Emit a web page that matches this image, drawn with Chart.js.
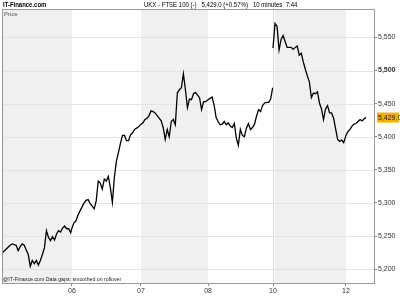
<!DOCTYPE html>
<html>
<head>
<meta charset="utf-8">
<script src="https://cdn.jsdelivr.net/npm/chart.js@4"></script>
<style>
  body { margin: 0; background: #fff; }
  #wrap { position: relative; width: 400px; height: 300px; font-family: "Liberation Sans", Arial, sans-serif; }
  #wrap canvas { position: absolute; left: 0; top: 0; }
  .txt { position: absolute; white-space: nowrap; color: #000; line-height: 1; transform-origin: 0 0; }
</style>
</head>
<body>
<div id="wrap">
  <canvas id="chart" width="400" height="300"></canvas>
  <div class="txt" style="left:3px; top:1px; font-size:7px; font-weight:bold; transform:scaleX(0.85);">IT-Finance.com</div>
  <div class="txt" style="left:144px; top:1px; font-size:7px; transform:scaleX(0.86);">UKX - FTSE 100 (-)&nbsp;&nbsp; 5,429.0 (+0.57%)&nbsp;&nbsp; 10 minutes&nbsp; 7:44</div>
  <div class="txt" style="left:4px; top:11px; font-size:6px; color:#555;">Price</div>
  <div class="txt" style="left:3px; top:276px; font-size:6px; color:#222; transform:scaleX(0.87);">@IT-Finance.com Data gaps: smoothed on rollover</div>
</div>
<script>
// ----------- data (10-minute closes, sampled) -----------
const dayLabels = ['05', '06', '07', '08', '10', '12'];
const dayStarts = [0, 8.66, 17.2, 25.5, 33.54, 42.57]; // session hours from the first bar
const step = 0.25;

const day05 = [5224, 5227, 5230, 5233, 5236, 5238, 5237, 5236, 5228, 5234, 5238, 5236, 5229, 5222, 5204, 5213, 5208, 5213, 5206, 5213, 5222, 5232, 5258, 5248, 5243, 5249, 5244, 5253, 5258, 5256, 5262, 5265, 5261, 5261, 5255];
const day06 = [5262, 5270, 5273, 5282, 5288, 5294, 5300, 5304, 5305, 5299, 5295, 5291, 5303, 5333, 5330, 5321, 5336, 5333, 5340, 5323, 5301, 5339, 5363, 5376, 5390, 5402, 5402, 5394, 5394, 5403, 5406, 5411, 5413, 5415];
const day07 = [5419, 5421, 5426, 5428, 5432, 5439, 5438, 5436, 5432, 5428, 5424, 5414, 5396, 5411, 5400, 5423, 5426, 5418, 5466, 5471, 5474, 5495, 5471, 5444, 5457, 5456, 5465, 5467, 5463, 5459, 5441, 5453, 5453];
const day08 = [5456, 5458, 5460, 5448, 5429, 5423, 5418, 5419, 5423, 5418, 5421, 5416, 5414, 5420, 5398, 5387, 5411, 5402, 5400, 5413, 5420, 5411, 5414, 5419, 5431, 5441, 5438, 5447, 5451, 5452, 5452, 5457, 5474];
const day10 = [5534, 5571, 5567, 5531, 5547, 5553, 5544, 5535, 5535, 5535, 5532, 5535, 5537, 5523, 5526, 5513, 5502, 5492, 5483, 5459, 5466, 5465, 5468, 5451, 5442, 5426, 5442, 5447, 5436, 5436, 5428, 5412, 5396, 5393, 5395, 5391];
const day12 = [5402, 5408, 5411, 5416, 5419, 5420, 5423, 5426, 5424, 5427, 5429];

const yTicks = [5200, 5250, 5300, 5350, 5400, 5450, 5500, 5550];
const lastPrice = 5429.0;

// gộp các ngày thành một chuỗi điểm, ngắt giữa 08 và 10
const days = [day05, day06, day07, day08, day10, day12];
const points = [];
days.forEach((vals, d) => {
    if (d === 4) points.push({ x: dayStarts[d] - 0.01, y: null });
    vals.forEach((v, i) => points.push({ x: dayStarts[d] + i * step, y: v }));
});

const xMax = 46.04;

// nền xám cho ngày xen kẽ + khung
const bandsPlugin = {
    id: 'bands',
    beforeDatasetsDraw(chart) {
        const { ctx, chartArea: a, scales: { x } } = chart;
        ctx.save();
        ctx.fillStyle = '#f0f0f0';
        [0, 2, 4].forEach(d => {
            const x0 = x.getPixelForValue(dayStarts[d]) + (d === 4 ? 2 : 0);
            const x1 = d + 1 < dayStarts.length ? x.getPixelForValue(dayStarts[d + 1]) : a.right;
            ctx.fillRect(x0, a.top, x1 - x0, a.bottom - a.top);
        });
        // horizontal grid re-drawn over the bands
        const y = chart.scales.y;
        ctx.strokeStyle = '#e4e4e4';
        ctx.lineWidth = 1;
        yTicks.forEach(v => {
            const py = Math.round(y.getPixelForValue(v)) + 0.5;
            ctx.beginPath();
            ctx.moveTo(a.left, py);
            ctx.lineTo(a.right, py);
            ctx.stroke();
        });
        ctx.strokeStyle = '#dcdcdc';
        const px = Math.round(x.getPixelForValue(dayStarts[4])) + 0.5;
        ctx.beginPath();
        ctx.moveTo(px, a.top);
        ctx.lineTo(px, a.bottom);
        ctx.stroke();
        ctx.restore();
    },
    afterDraw(chart) {
        const { ctx, chartArea: a, scales: { y } } = chart;
        ctx.save();
        ctx.strokeStyle = '#999';
        ctx.lineWidth = 1;
        ctx.strokeRect(a.left + 0.5, a.top + 0.5, a.right - a.left, a.bottom - a.top);
        // hộp giá hiện tại
        const py = y.getPixelForValue(lastPrice);
        ctx.fillStyle = '#f2b300';
        ctx.fillRect(a.right + 3, py - 5, 22, 10);
        ctx.fillStyle = '#222';
        ctx.font = '7px "Liberation Sans", Arial, sans-serif';
        ctx.textBaseline = 'middle';
        ctx.fillText(lastPrice.toLocaleString('en-US', { minimumFractionDigits: 1 }), a.right + 4, py + 0.5);
        ctx.restore();
    }
};

const ctx = document.getElementById('chart').getContext('2d');
new Chart(ctx, {
    type: 'line',
    data: {
        datasets: [{
            data: points,
            borderColor: '#000',
            borderWidth: 1.3,
            pointRadius: 0,
            tension: 0,
            spanGaps: false
        }]
    },
    options: {
        responsive: false,
        animation: false,
        layout: { padding: { top: 9, left: 2, right: 0, bottom: 0 } },
        plugins: { legend: { display: false }, tooltip: { enabled: false } },
        scales: {
            x: {
                type: 'linear',
                min: 0,
                max: xMax,
                afterFit(scale) { scale.height = 17; },
                afterBuildTicks(scale) {
                    scale.ticks = dayStarts.slice(1).map(v => ({ value: v }));
                },
                ticks: {
                    autoSkip: false,
                    maxRotation: 0,
                    padding: 1,
                    color: '#333',
                    font: { family: '"Liberation Sans", Arial, sans-serif', size: 7 },
                    callback: (v) => dayLabels[dayStarts.indexOf(v)]
                },
                grid: { drawOnChartArea: false, drawTicks: true, tickLength: 3, color: '#888' },
                border: { color: '#888' }
            },
            y: {
                position: 'right',
                min: 5179,
                max: 5593,
                afterFit(scale) { scale.width = 26; },
                afterBuildTicks(scale) {
                    scale.ticks = yTicks.map(v => ({ value: v }));
                },
                ticks: {
                    padding: 1,
                    color: '#333',
                    font: (c) => ({
                        family: '"Liberation Sans", Arial, sans-serif',
                        size: 7,
                        weight: c.tick && c.tick.value === 5500 ? 'bold' : 'normal'
                    }),
                    callback: (v) => v.toLocaleString('en-US')
                },
                grid: { drawOnChartArea: false, drawTicks: true, tickLength: 3, color: '#888' },
                border: { color: '#777' }
            }
        }
    },
    plugins: [bandsPlugin]
});
</script>
</body>
</html>
